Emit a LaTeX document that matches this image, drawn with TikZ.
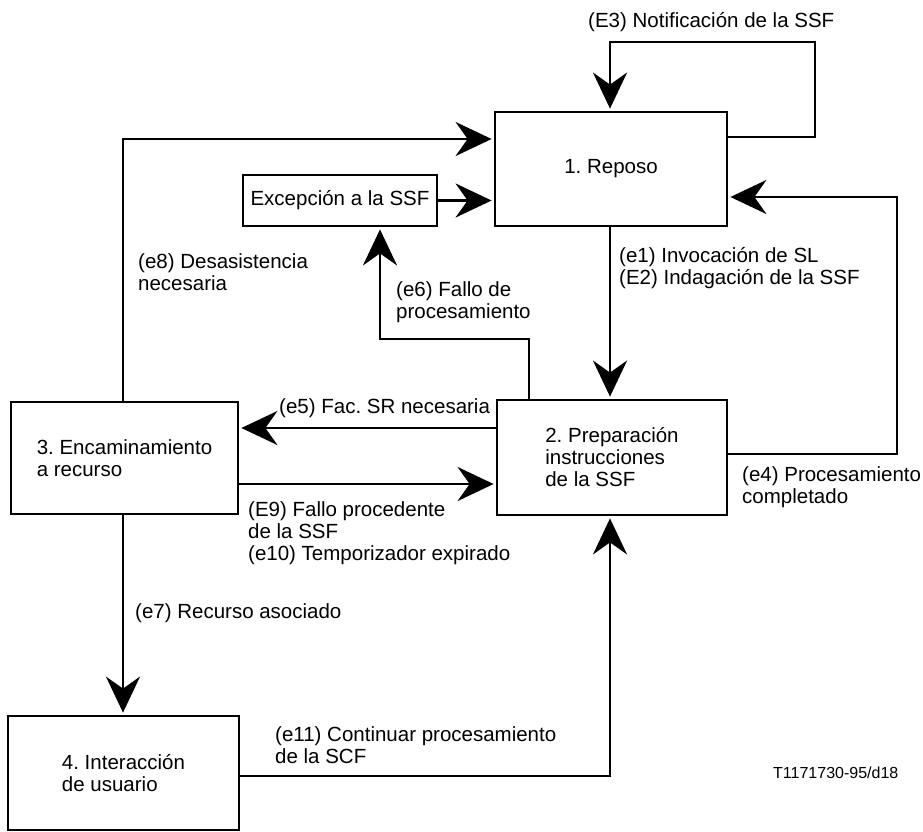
\documentclass[tikz,border=0pt]{standalone}
\usepackage{fontspec}
\setmainfont{Liberation Sans}
\usetikzlibrary{arrows.meta}
\frenchspacing
\begin{document}
\begin{tikzpicture}[x=1pt,y=-1pt,
  every node/.style={font=\fontsize{20.5}{22}\selectfont},
  state/.style={draw, line width=2.8pt, align=left, inner sep=0pt},
  lbl/.style={anchor=west, align=left, inner sep=0pt},
  arr/.style={line width=2.8pt, -{Stealth[length=36pt,width=34pt,inset=12pt]}, shorten >=2pt}]
\useasboundingbox (0,0) rectangle (923,831);

% states
\node[state, minimum width=232pt, minimum height=114pt] (r1) at (611,169) {1. Reposo};
\node[state, minimum width=230pt, minimum height=115pt] (r2) at (612,457.5) {2. Preparación\\instrucciones\\de la SSF};
\node[state, minimum width=227pt, minimum height=112pt] (r3) at (124.5,458) {3. Encaminamiento\\a recurso};
\node[state, minimum width=231pt, minimum height=114pt] (r4) at (123.5,773) {4. Interacción\\de usuario};
\node[state, minimum width=194pt, minimum height=51pt] (ex) at (340,200.5) {Excepción a la SSF};

% transitions
\draw[arr] (r1.east |- 0,137) -| (815,42) -| (r1.north -| 610,0);
\draw[arr] (r2.east |- 0,454) -| (897,197) -- (r1.east |- 0,197);
\draw[arr] (r1.south -| 610,0) -- (r2.north -| 610,0);
\draw[arr] (ex.east) -- (r1.west |- ex.east);
\draw[arr] (r3.north -| 123,0) |- (r1.west |- 0,139);
\draw[arr] (r2.north -| 529,0) |- (380,339) -- (ex.south -| 380,0);
\draw[arr] (r2.west |- 0,428) -- (r3.east |- 0,428);
\draw[arr] (r3.east |- 0,484) -- (r2.west |- 0,484);
\draw[arr] (r3.south -| 123,0) -- (r4.north -| 123,0);
\draw[arr] (r4.east |- 0,776) -| (r2.south -| 610,0);

% transition labels
\node[lbl] (lE3) at (588,22) {(E3) Notificación de la SSF};
\node[lbl] (le1) at (619,268) {(e1) Invocación de SL\\(E2) Indagación de la SSF};
\node[lbl] (le4) at (742,487) {(e4) Procesamiento\\completado};
\node[lbl] (le5) at (279,408) {(e5) Fac. SR necesaria};
\node[lbl] (le9) at (248,533) {(E9) Fallo procedente\\de la SSF\\(e10) Temporizador expirado};
\node[lbl] (le6) at (396,302) {(e6) Fallo de\\procesamiento};
\node[lbl] (le8) at (138,272) {(e8) Desasistencia\\necesaria};
\node[lbl] (le7) at (135,613) {(e7) Recurso asociado};
\node[lbl] (le11) at (275,745) {(e11) Continuar procesamiento\\de la SCF};
\node[lbl, font=\fontsize{16}{18}\selectfont] (code) at (773,773) {T1171730-95/d18};
\end{tikzpicture}
\end{document}
